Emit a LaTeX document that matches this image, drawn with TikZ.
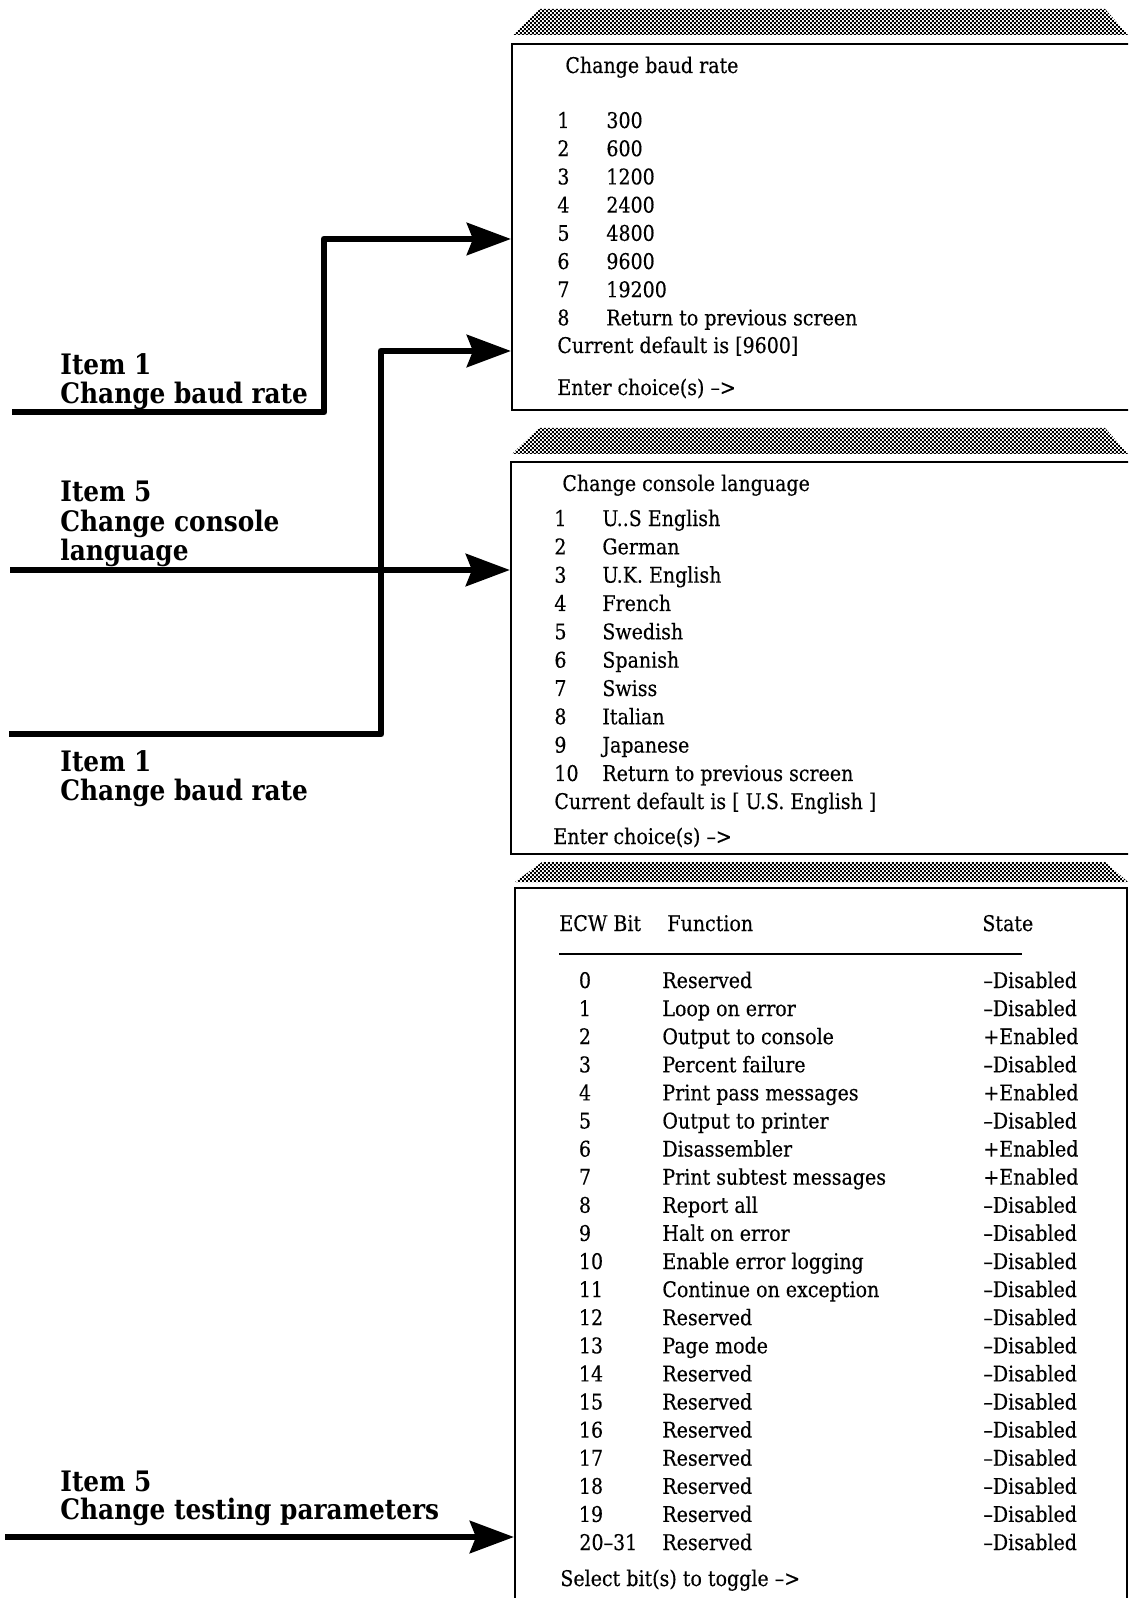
\documentclass[tikz,border=0pt]{standalone}
\usepackage{fontspec}
\setmainfont{DejaVu Serif}[FakeStretch=0.88]
\usetikzlibrary{arrows.meta, patterns}

\pgfdeclarepatternformonly{halftone}{\pgfpoint{0pt}{0pt}}{\pgfpoint{2.2pt}{2.2pt}}{\pgfpoint{2.2pt}{2.2pt}}{
  \pgfpathrectangle{\pgfpoint{0pt}{0pt}}{\pgfpoint{1.1pt}{1.1pt}}
  \pgfpathrectangle{\pgfpoint{1.1pt}{1.1pt}}{\pgfpoint{1.1pt}{1.1pt}}
  \pgfusepath{fill}
}

\newcommand{\screenfont}{\fontsize{10.8}{13}\selectfont\addfontfeature{FakeBold=0.3}}
\newcommand{\itemfont}{\fontsize{14.1}{15}\selectfont\bfseries}

\tikzset{
  screen/.style={draw, line width=0.85pt, anchor=north west, inner sep=0pt},
  bar/.style={pattern=halftone, pattern color=black},
  txt/.style={anchor=base west, inner sep=0pt, font=\screenfont},
  num/.style={anchor=base, inner sep=0pt, font=\screenfont},
  lbl/.style={anchor=base west, inner sep=0pt, font=\itemfont},
  rule/.style={line width=0.8pt},
  feed/.style={line width=3.4pt, line join=round, -{Stealth[length=22pt, width=16pt, inset=3pt]}}
}

\begin{document}
\begin{tikzpicture}[x=0.5pt, y=-0.5pt]
\useasboundingbox (0,0) rectangle (1128,1598);
\clip (0,0) rectangle (1128,1598);

% screens
\node[screen, minimum width=315pt, minimum height=183pt] (baud) at (511,43) {};
\node[screen, minimum width=315pt, minimum height=196pt] (lang) at (510,461) {};
\node[screen, minimum width=306pt, minimum height=380pt] (ecw) at (514,887) {};

\fill[bar] (513,35) -- (540,9) -- (1105,9) -- (1128,35) -- cycle;
\fill[bar] (512,454) -- (539,428) -- (1105,428) -- (1128,454) -- cycle;
\fill[bar] (515,882) -- (542,862) -- (1105,862) -- (1128,882) -- cycle;

% baud rate screen
\node[txt] (baudtitle) at (565,73) {Change baud rate};
\foreach \n/\v [count=\i from 0] in {1/300, 2/600, 3/1200, 4/2400, 5/4800,
    6/9600, 7/19200, 8/Return to previous screen} {
  \node[txt] (baudnum\n) at (557,{128+28.2*\i}) {\n};
  \node[txt] (baudval\n) at (606,{128+28.2*\i}) {\v};
}
\node[txt] (bauddefault) at (557,353) {Current default is [9600]};
\node[txt] (baudenter) at (557,395) {Enter choice(s) -->};

% console language screen
\node[txt] (langtitle) at (562,491) {Change console language};
\foreach \n/\v [count=\i from 0] in {1/U..S English, 2/German, 3/U.K. English,
    4/French, 5/Swedish, 6/Spanish, 7/Swiss, 8/Italian, 9/Japanese,
    10/Return to previous screen} {
  \node[txt] (langnum\n) at (554,{526+28.33*\i}) {\n};
  \node[txt] (langval\n) at (602,{526+28.33*\i}) {\v};
}
\node[txt] (langdefault) at (554,809) {Current default is [ U.S. English ]};
\node[txt] (langenter) at (553,844) {Enter choice(s) -->};

% testing parameters screen
\node[txt] (hbit) at (559,931) {ECW Bit};
\node[txt] (hfn) at (667,931) {Function};
\node[txt] (hstate) at (982,931) {State};
\draw[rule] (559,954) -- (1022,954);
\foreach \i in {0,...,9}
  \node[num] (bit\i) at (585,{988+28.1*\i}) {\i};
\foreach \i in {10,...,19}
  \node[num] (bit\i) at (591,{988+28.1*\i}) {\i};
\node[txt] (bit20) at (579,{988+28.1*20}) {20--31};
\foreach \f/\s [count=\i from 0] in {Reserved/--Disabled, Loop on error/--Disabled,
    Output to console/+Enabled, Percent failure/--Disabled,
    Print pass messages/+Enabled, Output to printer/--Disabled,
    Disassembler/+Enabled, Print subtest messages/+Enabled,
    Report all/--Disabled, Halt on error/--Disabled,
    Enable error logging/--Disabled, Continue on exception/--Disabled,
    Reserved/--Disabled, Page mode/--Disabled, Reserved/--Disabled,
    Reserved/--Disabled, Reserved/--Disabled, Reserved/--Disabled,
    Reserved/--Disabled, Reserved/--Disabled, Reserved/--Disabled} {
  \node[txt] (fn\i) at (662,{988+28.1*\i}) {\f};
  \node[txt] (st\i) at (983,{988+28.1*\i}) {\s};
}
\node[txt] (ecwselect) at (560,1586) {Select bit(s) to toggle -->};

% menu items
\node[lbl] (itemA) at (60,375) {Item 1};
\node[lbl] (itemAtext) at (60,404) {Change baud rate};
\node[lbl] (itemC) at (60,502) {Item 5};
\node[lbl] (itemCtext) at (60,531) {Change console};
\node[lbl] (itemCmore) at (60,560) {language};
\node[lbl] (itemB) at (60,771) {Item 1};
\node[lbl] (itemBtext) at (60,800) {Change baud rate};
\node[lbl] (itemD) at (60,1491) {Item 5};
\node[lbl] (itemDtext) at (60,1519) {Change testing parameters};

% connectors
\coordinate (inA) at (12,412);
\coordinate (turnA) at (324,239);
\draw[feed] (inA) -| (turnA) -- (baud.west |- turnA);
\coordinate (inB) at (9,734);
\coordinate (turnB) at (381,351);
\draw[feed] (inB) -| (turnB) -- (baud.west |- turnB);
\coordinate (inC) at (10,570);
\draw[feed] (inC) -- (lang.west |- inC);
\coordinate (inD) at (5,1537);
\draw[feed] (inD) -- (ecw.west |- inD);
\end{tikzpicture}
\end{document}
